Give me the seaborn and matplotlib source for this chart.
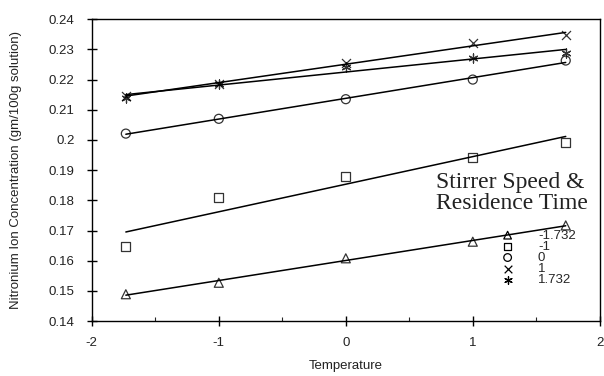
import numpy as np
import pandas as pd
import seaborn as sns
import matplotlib.pyplot as plt

# Temperature levels (coded) and nitronium ion concentration per stirrer speed/residence time level
temperature = [-1.732, -1, 0, 1, 1.732]
conc_m1732 = [0.1489, 0.1527, 0.1608, 0.1663, 0.1717]
conc_m1 = [0.1647, 0.1808, 0.1878, 0.1943, 0.1991]
conc_0 = [0.2021, 0.2070, 0.2135, 0.2200, 0.2263]
conc_1 = [0.2145, 0.2185, 0.2255, 0.2322, 0.2347]
conc_1732 = [0.2138, 0.2186, 0.2242, 0.2270, 0.2289]

levels = ["-1.732", "-1", "0", "1", "1.732"]
y_ticks = [0.14, 0.15, 0.16, 0.17, 0.18, 0.19, 0.2, 0.21, 0.22, 0.23, 0.24]
y_tick_labels = ["0.14", "0.15", "0.16", "0.17", "0.18", "0.19", "0.2", "0.21", "0.22", "0.23", "0.24"]
x_ticks = [-2, -1, 0, 1, 2]

series = [conc_m1732, conc_m1, conc_0, conc_1, conc_1732]
markers = ["^", "s", "o", "x", (6, 2, 0)]

sns.set_style("ticks")
plt.rcParams["font.family"] = ["Liberation Sans", "DejaVu Sans"]

fig = plt.figure(figsize=(6.04, 3.76), dpi=100)
ax = fig.add_axes([0.152, 0.146, 0.841, 0.803])

handles = []
for vals, mk, lab in zip(series, markers, levels):
    df = pd.DataFrame({"temperature": temperature, "conc": vals})
    filled = mk in ("x", (6, 2, 0))
    sns.regplot(
        data=df, x="temperature", y="conc", ax=ax, ci=None, marker=mk,
        scatter_kws=dict(s=42, facecolors="black" if filled else "none",
                         edgecolors="black", color="black", linewidths=0.9),
        line_kws=dict(color="black", lw=1.1),
    )
    h = ax.scatter([], [], marker=mk, s=42, facecolors="black" if filled else "none",
                   edgecolors="black", linewidths=0.9, label=lab)
    handles.append(h)

ax.set_xlim(-2, 2)
ax.set_ylim(0.14, 0.24)
ax.set_xticks(x_ticks)
ax.set_xticklabels([str(t) for t in x_ticks], fontsize=9.5, color="#222222")
ax.set_xticks([-1.5, -0.5, 0.5, 1.5], minor=True)
ax.set_yticks(y_ticks)
ax.set_yticklabels(y_tick_labels, fontsize=9.5, color="#222222")
ax.tick_params(axis="both", which="major", direction="inout", length=7, width=1, color="black")
ax.tick_params(axis="y", which="major", pad=9)
ax.tick_params(axis="x", which="major", pad=8)
ax.tick_params(axis="x", which="minor", direction="in", length=3, width=0.8)
for s in ax.spines.values():
    s.set_color("black")
    s.set_linewidth(1.0)

ax.set_xlabel("Temperature", fontsize=9.5, labelpad=8, color="#222222")
ax.set_ylabel("Nitronium Ion Concentration (gm/100g solution)", fontsize=9.5,
              labelpad=19, color="#222222")

ax.text(0.677, 0.355, "Stirrer Speed &\nResidence Time", transform=ax.transAxes,
        fontsize=17, family="Liberation Serif", ha="left", va="bottom",
        color="#222222", linespacing=1.0)
ax.legend(handles=handles, loc="upper left", bbox_to_anchor=(0.79, 0.33),
          frameon=False, fontsize=9.5, labelspacing=-0.08, handletextpad=1.8,
          handlelength=1.0, borderpad=0.1, markerscale=0.85)

fig.savefig("out.png", dpi=100)
